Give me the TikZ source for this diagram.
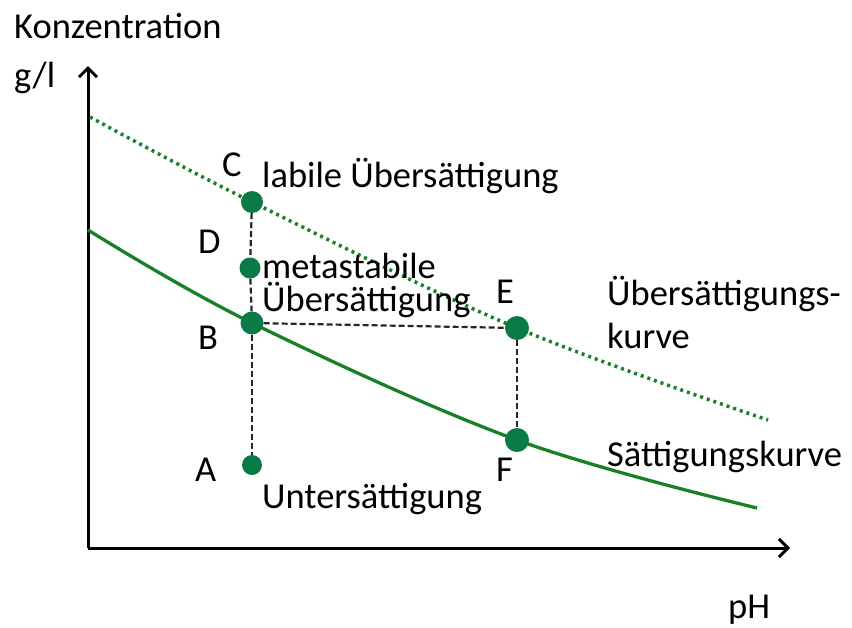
\documentclass[tikz,border=0pt]{standalone}
\usepackage{fontspec}
\setmainfont{Carlito}
\usetikzlibrary{arrows.meta}
\definecolor{dotgreen}{RGB}{10,122,70}
\definecolor{curvegreen}{RGB}{26,128,40}
\tikzset{
  axis/.style={line width=3pt, -{Straight Barb[length=9pt,width=18pt,line width=3pt]}},
  point/.style={circle, fill=dotgreen, inner sep=0pt, minimum size=#1},
  point/.default=22pt,
  guide/.style={line width=2.2pt, dash pattern=on 6pt off 3pt, black!85},
  lbl/.style={font=\fontsize{36.5}{42}\selectfont, inner sep=0pt},
  satcurve/.style={line width=3.3pt, curvegreen},
  supcurve/.style={line width=3.5pt, curvegreen, dash pattern=on 3pt off 4pt},
}
\begin{document}
\begin{tikzpicture}[x=1pt,y=-1pt]
\useasboundingbox (0,0) rectangle (852,627);
% axes
\coordinate (O) at (88,548);
\coordinate (ytip) at (88,66);
\coordinate (xtip) at (790,548);
\draw[axis] (O) -- (ytip);
\draw[axis] (O) -- (xtip);
% curves
\draw[satcurve] plot[smooth, tension=0.6] coordinates {(88,230) (252,323) (517,440) (757,508)};
\draw[supcurve] plot[smooth, tension=0.6] coordinates {(90,117) (252,202) (517,328) (768,420)};
% points
\node[point=22pt] (C) at (252,202) {};
\node[point=21pt] (D) at (250,268) {};
\node[point=23pt] (B) at (252,323) {};
\node[point=20pt] (A) at (252,465) {};
\node[point=24pt] (E) at (517,328) {};
\node[point=24pt] (F) at (517,440) {};
% guide lines
\draw[guide] (C) -- (D);
\draw[guide] (D) -- (B);
\draw[guide] (B) -- (A);
\draw[guide] (B) -- (E);
\draw[guide] (E) -- (F);
% labels
\node[lbl, anchor=base west] (ylab1) at (14,38) {Konzentration};
\node[lbl, anchor=base west] (ylab2) at (14,87) {g/l};
\node[lbl, anchor=base west] (xlab) at (728,618) {pH};
\node[lbl, anchor=base west] (lC) at (222,176) {C};
\node[lbl, anchor=base west] (lD) at (198,253) {D};
\node[lbl, anchor=base west] (lB) at (198,349) {B};
\node[lbl, anchor=base west] (lA) at (195,481) {A};
\node[lbl, anchor=base west] (lE) at (496,303) {E};
\node[lbl, anchor=base west] (lF) at (496,481) {F};
\node[lbl, anchor=base west] (tlab) at (262,187) {labile Übersättigung};
\node[lbl, anchor=base west] (tmeta1) at (262,278) {metastabile};
\node[lbl, anchor=base west] (tmeta2) at (262,311) {Übersättigung};
\node[lbl, anchor=base west] (tunter) at (262,508) {Untersättigung};
\node[lbl, anchor=base west] (tsup1) at (607,305) {Übersättigungs-};
\node[lbl, anchor=base west] (tsup2) at (607,348) {kurve};
\node[lbl, anchor=base west] (tsat) at (607,466) {Sättigungskurve};
\end{tikzpicture}
\end{document}
